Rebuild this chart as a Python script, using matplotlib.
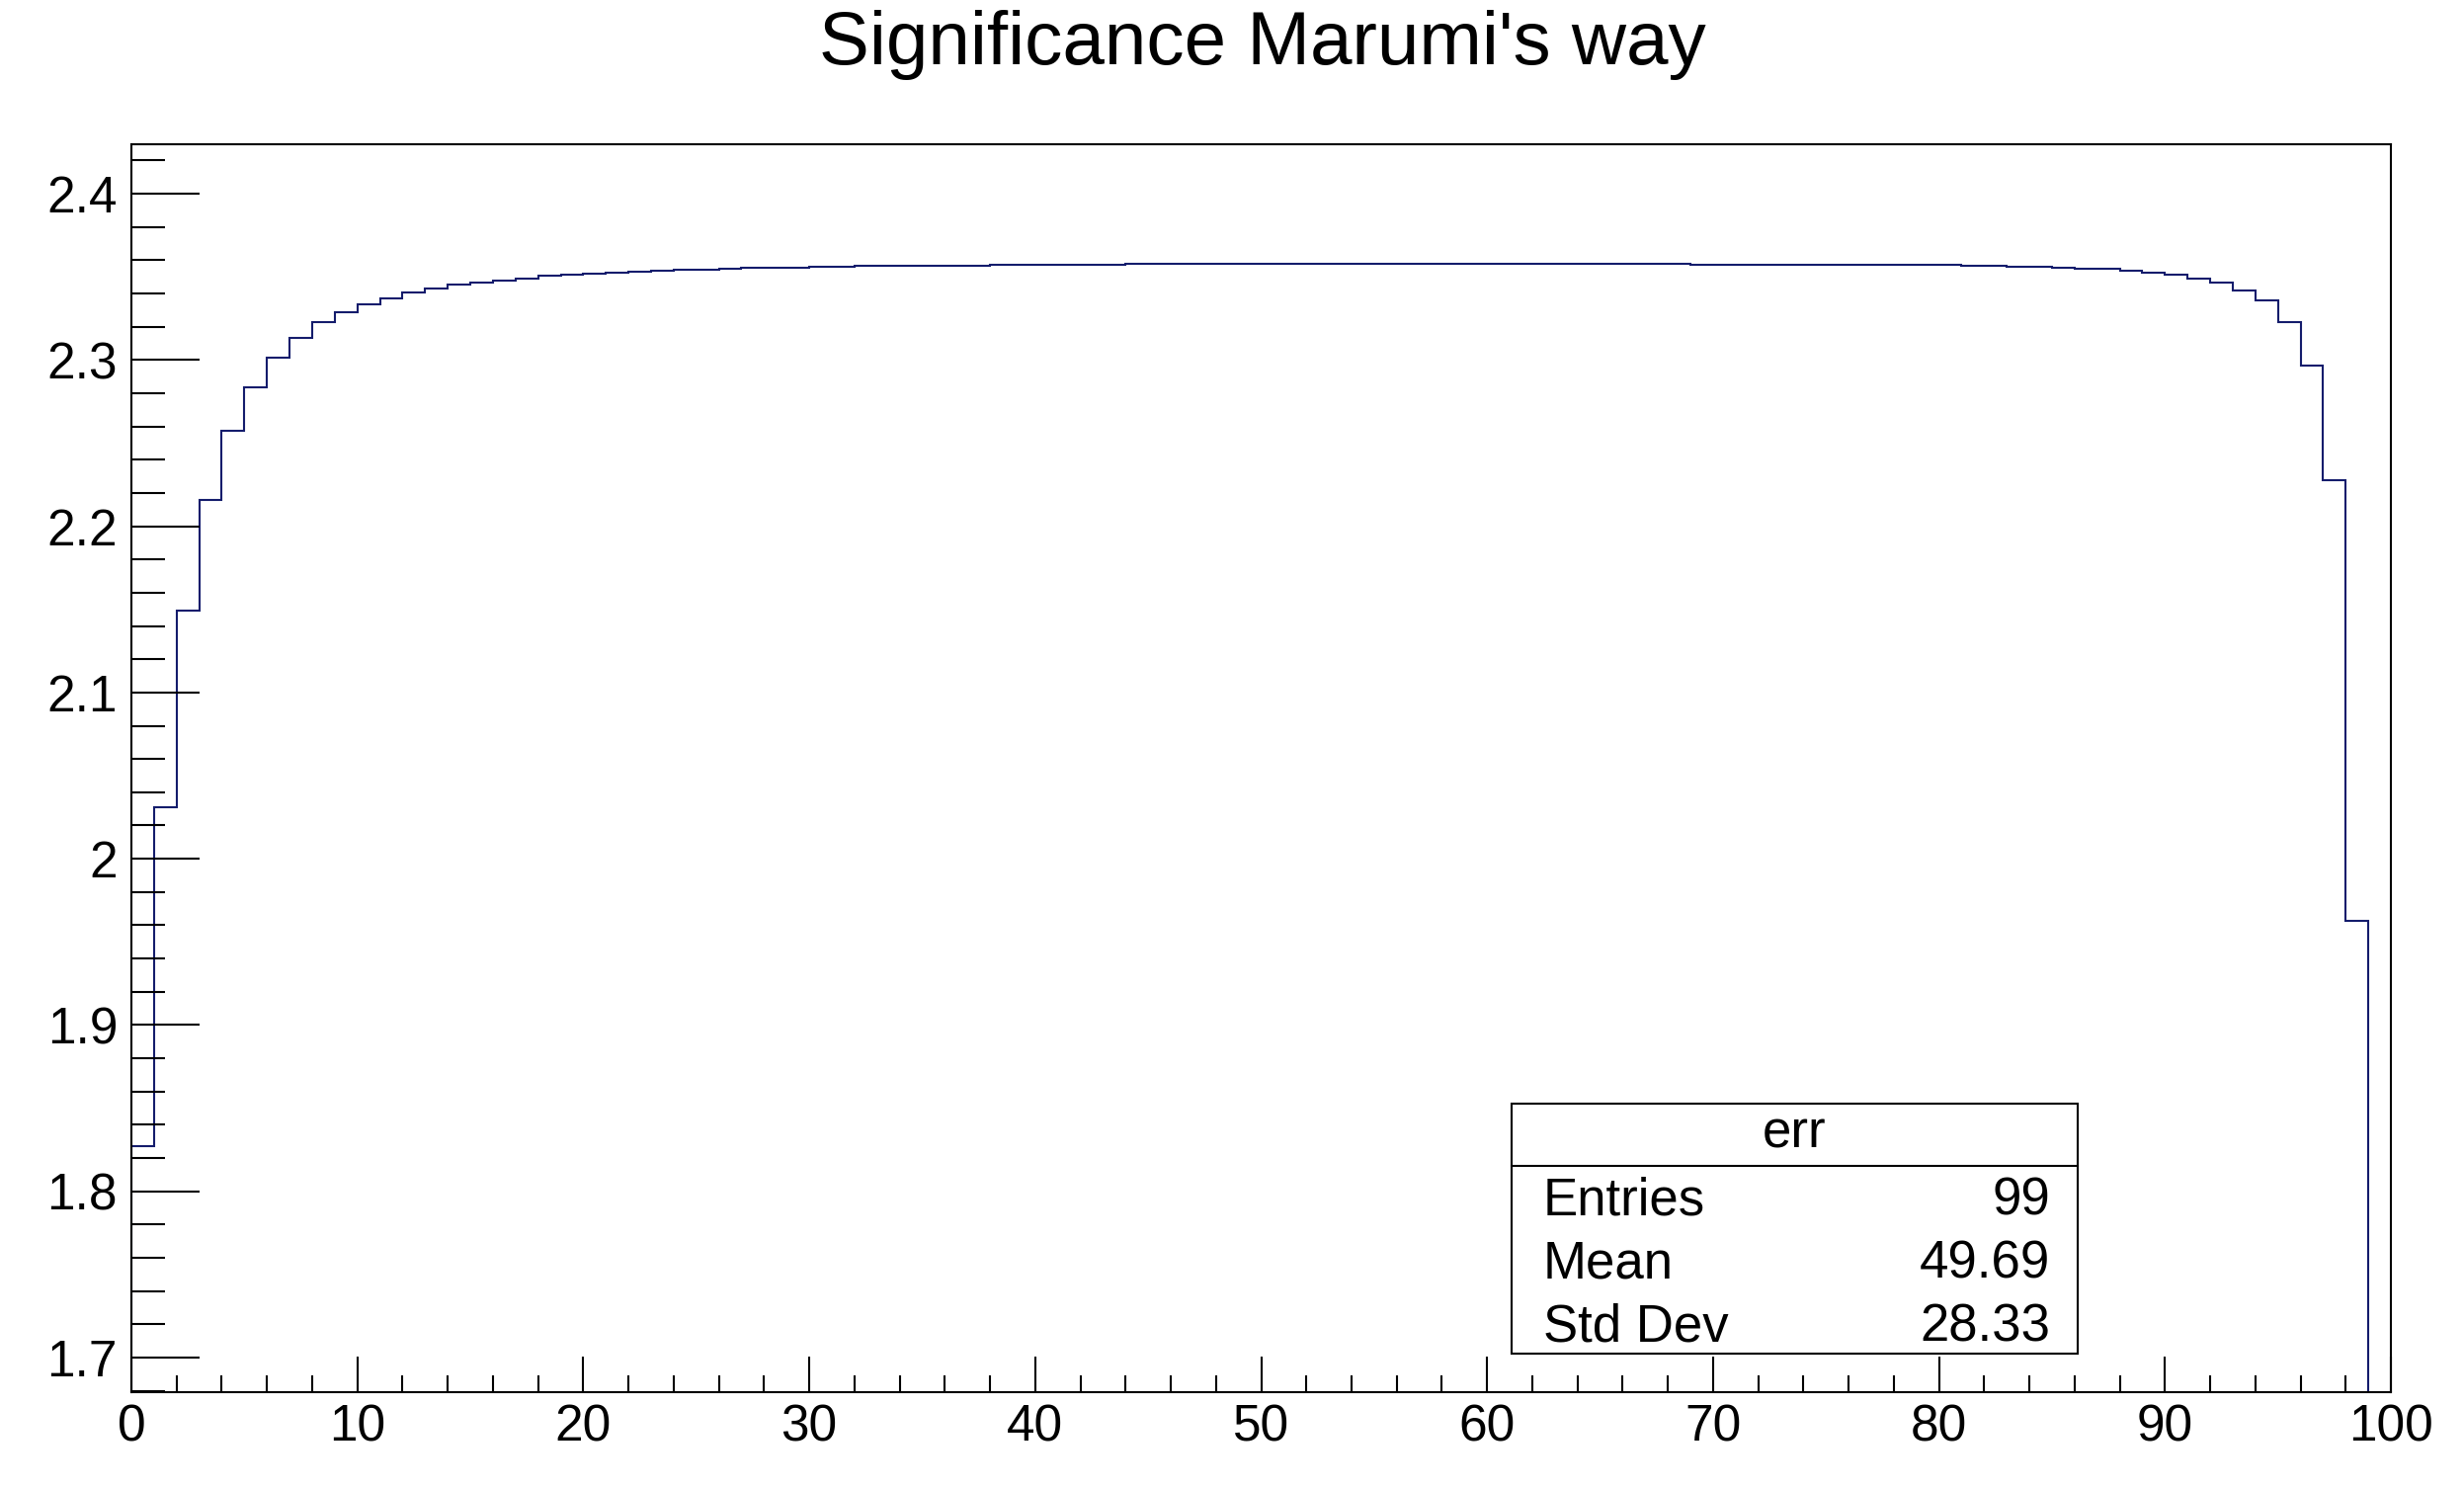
import numpy as np
import matplotlib.pyplot as plt
from matplotlib.patches import Rectangle
from matplotlib.ticker import MultipleLocator, FormatStrFormatter

# histogram "err": 100 bins on [0, 100]
bin_edges = np.arange(0, 101, 1)
bin_values = [
    1.8270, 2.0310, 2.1490, 2.2155, 2.2571, 2.2835, 2.3012, 2.3133, 2.3226, 2.3286,
    2.3335, 2.3371, 2.3407, 2.3429, 2.3452, 2.3466, 2.3480, 2.3492, 2.3504, 2.3514,
    2.3518, 2.3526, 2.3531, 2.3538, 2.3542, 2.3545, 2.3550, 2.3552, 2.3554, 2.3556,
    2.3558, 2.3562, 2.3564, 2.3565, 2.3566, 2.3567, 2.3568, 2.3569, 2.3570, 2.3574,
    2.3574, 2.3575, 2.3575, 2.3575, 2.3576, 2.3576, 2.3576, 2.3576, 2.3576, 2.3576,
    2.3577, 2.3577, 2.3577, 2.3577, 2.3577, 2.3577, 2.3577, 2.3577, 2.3577, 2.3577,
    2.3577, 2.3577, 2.3577, 2.3576, 2.3576, 2.3576, 2.3576, 2.3576, 2.3576, 2.3575,
    2.3575, 2.3575, 2.3575, 2.3575, 2.3575, 2.3574, 2.3574, 2.3574, 2.3574, 2.3574,
    2.3574, 2.3565, 2.3564, 2.3562, 2.3560, 2.3553, 2.3550, 2.3546, 2.3538, 2.3526,
    2.3515, 2.3491, 2.3467, 2.3418, 2.3360, 2.3229, 2.2966, 2.2279, 1.9627, 0.0,
]

title = "Significance Marumi's way"
stats_name = "err"
stats_labels = ["Entries", "Mean", "Std Dev"]
stats_values = ["99", "49.69", "28.33"]

plt.rcParams['font.family'] = ['Liberation Sans', 'DejaVu Sans']

W, H = 2494, 1506
fig = plt.figure(figsize=(W / 100, H / 100), dpi=100)
ax = fig.add_axes([133 / W, 1 - 1409 / H, (2420 - 133) / W, (1409 - 145.7) / H])

ax.stairs(bin_values, bin_edges, baseline=0, color='#141c6c', linewidth=1.5)

ax.set_xlim(0, 100)
ax.set_ylim(1.6792, 2.4299)

ax.xaxis.set_major_locator(MultipleLocator(10))
ax.xaxis.set_minor_locator(MultipleLocator(2))
ax.yaxis.set_major_locator(MultipleLocator(0.1))
ax.yaxis.set_minor_locator(MultipleLocator(0.02))
ax.yaxis.set_major_formatter(FormatStrFormatter('%g'))

ax.tick_params(axis='both', direction='in', labelsize=37, width=1.5,
               top=False, right=False, colors='black')
ax.tick_params(axis='both', which='minor', direction='in', width=1.5,
               top=False, right=False)
ax.tick_params(axis='y', which='major', length=50, pad=10)
ax.tick_params(axis='y', which='minor', length=24.5)
ax.tick_params(axis='x', which='major', length=26, pad=8)
ax.tick_params(axis='x', which='minor', length=12.5)
for s in ax.spines.values():
    s.set_linewidth(1.5)

fig.text(1278 / W, 1 - 65 / H, title, fontsize=55, ha='center', va='baseline')

# stats box
bx0, bx1 = 1530 / W, 2103 / W
by0, by1 = 1 - 1370 / H, 1 - 1117 / H
fig.patches.append(Rectangle((bx0, by0), bx1 - bx0, by1 - by0, transform=fig.transFigure,
                             facecolor='white', edgecolor='black', linewidth=1.5, zorder=5))
fig.lines.append(plt.Line2D([bx0, bx1], [1 - 1180 / H] * 2, transform=fig.transFigure,
                            color='black', linewidth=1.5, zorder=6))
fig.text((bx0 + bx1) / 2, 1 - 1162 / H, stats_name, fontsize=38, ha='center', va='baseline', zorder=7)
rows_y = [1230, 1293, 1357]
for lab, val, yy in zip(stats_labels, stats_values, rows_y):
    fig.text(1562 / W, 1 - yy / H, lab, fontsize=38, ha='left', va='baseline', zorder=7)
    fig.text(2075 / W, 1 - yy / H, val, fontsize=38, ha='right', va='baseline', zorder=7)

fig.savefig('out.png', dpi=100)
